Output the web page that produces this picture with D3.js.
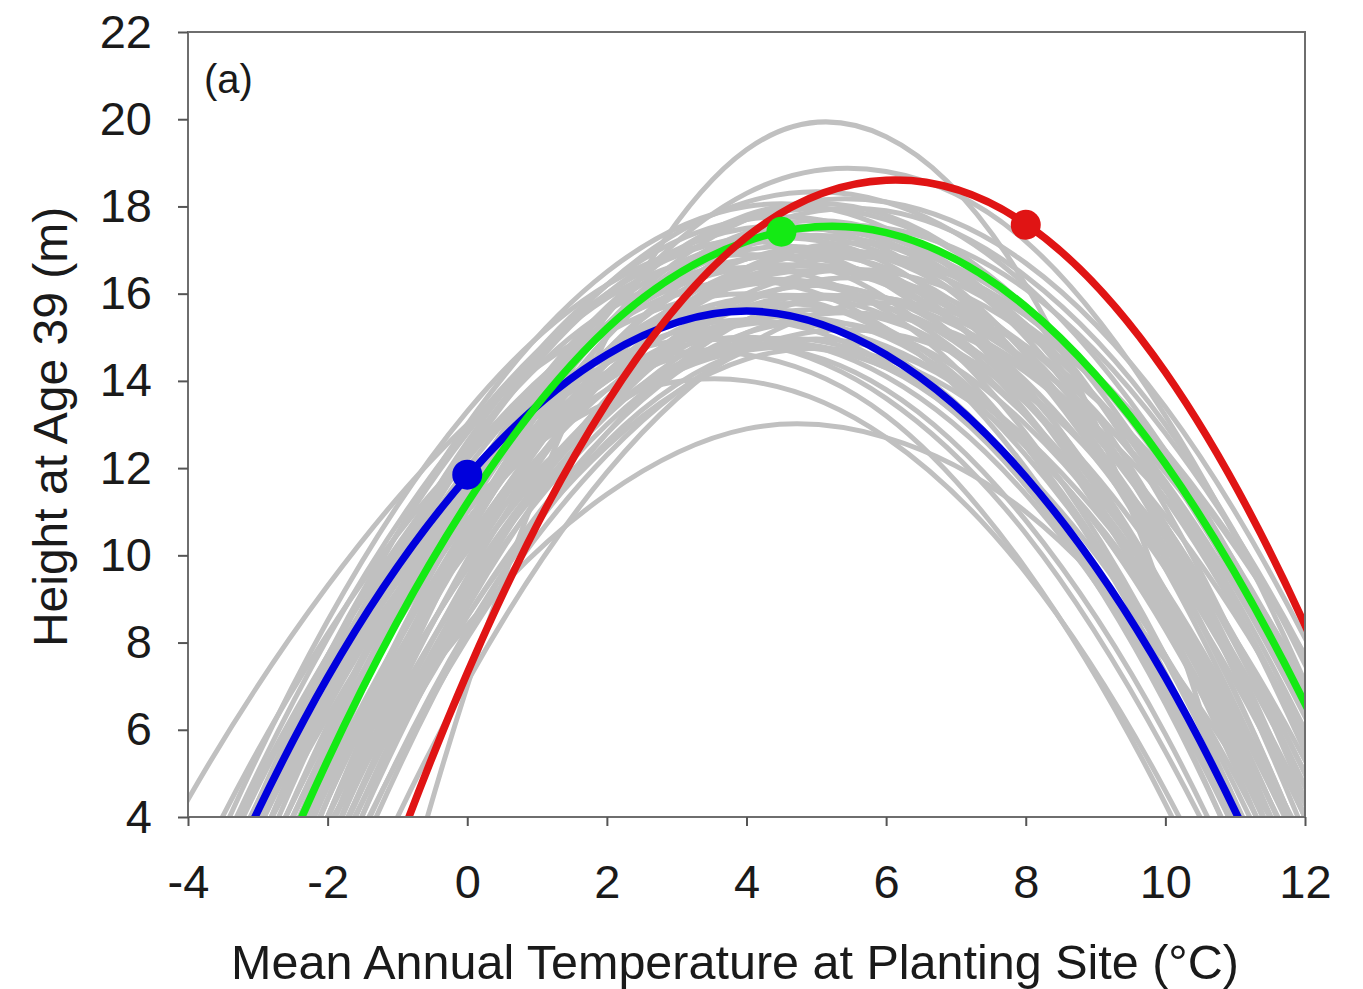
<!DOCTYPE html>
<html>
<head>
<meta charset="utf-8">
<script src="https://cdn.jsdelivr.net/npm/d3@7"></script>
<style>
  body { margin: 0; background: #fff; }
  svg text { font-family: "Liberation Sans", Arial, sans-serif; fill: #1a1a1a; }
</style>
</head>
<body>
<svg id="chart" width="1363" height="989"></svg>
<script>
const temps = [-6, -4, -2, 0, 2, 4, 6, 8, 10, 12, 14];

// heights (m) of the grey response curves at those temperatures
const grayCurves = [
  [-7.5, 0.6, 6.9, 11.4, 14.1, 15.0, 14.1, 11.4, 6.9, 0.6, -7.5],
  [-8.5, 0.1, 6.8, 11.6, 14.4, 15.4, 14.4, 11.6, 6.8, 0.1, -8.5],
  [-7.2, 1.2, 7.7, 12.3, 15.1, 16.0, 15.1, 12.3, 7.7, 1.2, -7.2],
  [-9.1, 0.2, 7.3, 12.5, 15.6, 16.6, 15.6, 12.5, 7.3, 0.2, -9.1],
  [-6.9, 1.8, 8.5, 13.3, 16.2, 17.2, 16.2, 13.3, 8.5, 1.8, -6.9],
  [-11.0, -2.1, 4.9, 10.1, 13.3, 14.7, 14.3, 11.9, 7.7, 1.7, -6.3],
  [-8.1, 0.0, 6.3, 11.0, 14.0, 15.3, 14.8, 12.7, 8.9, 3.4, -3.8],
  [-14.1, -3.8, 4.4, 10.3, 14.1, 15.7, 15.2, 12.5, 7.6, 0.6, -8.7],
  [-11.4, -1.8, 5.7, 11.2, 14.7, 16.2, 15.7, 13.2, 8.7, 2.2, -6.4],
  [-7.6, 0.8, 7.4, 12.2, 15.3, 16.6, 16.2, 14.0, 10.0, 4.3, -3.2],
  [-14.1, -3.4, 5.1, 11.4, 15.3, 17.0, 16.5, 13.6, 8.5, 1.2, -8.4],
  [-11.3, -1.3, 6.5, 12.3, 16.0, 17.5, 17.0, 14.4, 9.7, 2.9, -6.1],
  [-9.6, 0.0, 7.5, 13.0, 16.5, 18.0, 17.5, 15.0, 10.5, 4.0, -4.6],
  [-17.5, -6.8, 1.8, 8.3, 12.6, 14.7, 14.7, 12.6, 8.3, 1.8, -6.8],
  [-13.0, -3.6, 4.0, 9.7, 13.5, 15.4, 15.4, 13.5, 9.7, 4.0, -3.6],
  [-17.3, -6.3, 2.5, 9.1, 13.5, 15.7, 15.7, 13.5, 9.1, 2.5, -6.3],
  [-11.9, -2.5, 5.0, 10.6, 14.4, 16.3, 16.3, 14.4, 10.6, 5.0, -2.5],
  [-16.9, -5.7, 3.2, 9.9, 14.4, 16.6, 16.6, 14.4, 9.9, 3.2, -5.7],
  [-10.5, -1.3, 6.0, 11.6, 15.2, 17.1, 17.1, 15.2, 11.6, 6.0, -1.3],
  [-16.1, -5.0, 4.0, 10.7, 15.2, 17.4, 17.4, 15.2, 10.7, 4.0, -5.0],
  [-12.9, -2.7, 5.5, 11.6, 15.7, 17.7, 17.7, 15.7, 11.6, 5.5, -2.7],
  [-10.1, -0.7, 6.8, 12.4, 16.2, 18.1, 18.1, 16.2, 12.4, 6.8, -0.7],
  [-15.9, -6.0, 2.0, 8.1, 12.3, 14.7, 15.1, 13.7, 10.4, 5.3, -1.8],
  [-12.8, -3.7, 3.7, 9.3, 13.2, 15.4, 15.9, 14.5, 11.5, 6.7, 0.2],
  [-17.1, -6.4, 2.2, 8.8, 13.3, 15.8, 16.3, 14.8, 11.3, 5.7, -1.9],
  [-11.8, -2.7, 4.7, 10.3, 14.2, 16.3, 16.8, 15.5, 12.4, 7.7, 1.2],
  [-16.5, -5.8, 2.9, 9.5, 14.1, 16.6, 17.1, 15.6, 12.0, 6.4, -1.2],
  [-13.5, -3.7, 4.4, 10.5, 14.7, 17.1, 17.5, 16.1, 12.8, 7.7, 0.6],
  [-14.9, -4.5, 4.0, 10.5, 15.0, 17.4, 17.9, 16.4, 13.0, 7.5, 0.0],
  [-18.9, -8.3, 0.4, 7.1, 11.9, 14.8, 15.8, 14.8, 11.9, 7.1, 0.4],
  [-18.3, -7.4, 1.4, 8.2, 12.8, 15.4, 15.9, 14.4, 10.7, 5.0, -2.8],
  [-13.3, -3.3, 4.7, 10.7, 14.7, 16.8, 16.8, 14.7, 10.7, 4.7, -3.3],
  [-7.5, 0.9, 7.3, 11.7, 14.2, 14.6, 13.2, 9.7, 4.3, -3.0, -12.4],
  [-5.3, 2.4, 8.2, 12.3, 14.5, 14.9, 13.6, 10.5, 5.5, -1.2, -9.8],
  [-15.6, -5.0, 3.3, 9.4, 13.3, 14.9, 14.4, 11.6, 6.6, -0.6, -10.0],
  [-15.0, -5.2, 2.7, 8.6, 12.5, 14.5, 14.5, 12.5, 8.6, 2.7, -5.2],
  [-10.3, -0.7, 6.7, 12.0, 15.2, 16.3, 15.2, 12.0, 6.7, -0.7, -10.3],
  [-15.5, -5.3, 2.9, 9.2, 13.6, 16.0, 16.5, 15.1, 11.7, 6.3, -1.0],
  [-6.9, 1.5, 8.1, 12.9, 16.0, 17.3, 16.9, 14.7, 10.7, 5.0, -2.5],
  [-16.8, -5.5, 3.6, 10.4, 15.0, 17.2, 17.2, 15.0, 10.4, 3.6, -5.5],
  [-10.4, -1.5, 5.6, 10.8, 14.0, 15.4, 15.0, 12.6, 8.4, 2.3, -5.7],
  [-8.8, -0.3, 6.5, 11.4, 14.6, 15.9, 15.5, 13.2, 9.2, 3.3, -4.3],
  [-11.3, -1.6, 6.1, 11.7, 15.3, 16.8, 16.3, 13.8, 9.2, 2.5, -6.2],
  [-10.8, -0.9, 6.9, 12.6, 16.2, 17.7, 17.2, 14.6, 10.0, 3.2, -5.6],
  [-15.2, -5.1, 3.0, 9.0, 13.0, 15.1, 15.1, 13.0, 9.0, 3.0, -5.1],
  [-11.9, -2.7, 4.7, 10.2, 13.8, 15.7, 15.7, 13.8, 10.2, 4.7, -2.7],
  [-14.7, -4.3, 4.0, 10.2, 14.4, 16.4, 16.4, 14.4, 10.2, 4.0, -4.3],
  [-11.5, -1.9, 5.7, 11.5, 15.3, 17.3, 17.3, 15.3, 11.5, 5.7, -1.9],
  [-15.7, -4.6, 4.4, 11.1, 15.6, 17.8, 17.8, 15.6, 11.1, 4.4, -4.6],
  [-14.8, -5.2, 2.7, 8.6, 12.8, 15.1, 15.5, 14.2, 10.9, 5.9, -1.0],
  [-14.4, -4.4, 3.6, 9.8, 14.1, 16.5, 16.9, 15.5, 12.2, 7.0, -0.1],
  [-8.9, 0.0, 6.9, 11.8, 14.7, 15.7, 14.7, 11.8, 6.9, 0.0, -8.9],
  [-8.7, 0.5, 7.7, 12.8, 15.9, 16.9, 15.9, 12.8, 7.7, 0.5, -8.7],
  [-13.5, -3.7, 4.0, 9.7, 13.3, 14.8, 14.3, 11.7, 7.1, 0.4, -8.4],
  [-18.7, -7.2, 2.1, 9.0, 13.6, 15.9, 15.9, 13.6, 9.0, 2.1, -7.2],
  [-13.5, -2.9, 5.5, 11.6, 15.6, 17.2, 16.7, 13.9, 8.9, 1.6, -7.9],
  [-13.5, -3.4, 4.7, 11.0, 15.3, 17.7, 18.1, 16.7, 13.4, 8.1, 0.9],
  [-10.0, -1.1, 5.9, 10.8, 13.8, 14.8, 13.8, 10.8, 5.9, -1.1, -10.0],
  [-40.3, -20.7, -4.9, 7.0, 15.0, 19.3, 19.6, 16.2, 8.9, -2.2, -17.2],
  [-7.2, 0.7, 6.8, 11.1, 13.5, 14.0, 12.7, 9.6, 4.6, -2.3, -10.9],
  [-10.3, -2.5, 3.8, 8.4, 11.4, 12.9, 12.7, 11.0, 7.6, 2.6, -3.9],
  [-18.1, -6.4, 3.2, 10.4, 15.5, 18.3, 18.8, 17.2, 13.2, 7.1, -1.3],
  [-1.9, 4.4, 9.3, 13.0, 15.3, 16.3, 15.9, 14.3, 11.3, 7.0, 1.4],
  [-6.0, 1.6, 7.7, 12.3, 15.3, 16.8, 16.8, 15.3, 12.3, 7.7, 1.6]
];

// the three highlighted curves
const blueCurve  = [-7.8, 0.6, 7.2, 11.8, 14.6, 15.6, 14.6, 11.8, 7.2, 0.6, -7.8];
const greenCurve = [-12.1, -2.5, 5.3, 11.2, 15.2, 17.2, 17.4, 15.7, 12.1, 6.6, -0.8];
const redCurve   = [-25.6, -12.3, -1.3, 7.3, 13.5, 17.3, 18.6, 17.6, 14.2, 8.4, 0.2];

// dots on the highlighted curves (temperature, height)
const dotSeries  = ["blue", "green", "red"];
const dotTemps   = [0, 4.5, 8];
const dotHeights = [11.85, 17.42, 17.58];

const xTicks = [-4, -2, 0, 2, 4, 6, 8, 10, 12];
const yTicks = [4, 6, 8, 10, 12, 14, 16, 18, 20, 22];

const colors = { blue: "#0000dc", green: "#14ea14", red: "#e01414" };

const svg = d3.select("#chart");
const plotL = 188, plotR = 1305, plotT = 32, plotB = 817;

const x = d3.scaleLinear().domain([-4, 12]).range([plotL, plotR]);
const y = d3.scaleLinear().domain([4, 22]).range([plotB, plotT]);

svg.append("defs").append("clipPath")
    .attr("id", "plot")
  .append("rect")
    .attr("x", plotL).attr("y", plotT)
    .attr("width", plotR - plotL).attr("height", plotB - plotT);

// curve through the read points (uniform Catmull-Rom)
const line = d3.line()
    .x((d, i) => x(temps[i]))
    .y(d => y(d))
    .curve(d3.curveCatmullRom.alpha(0));

const curves = svg.append("g").attr("clip-path", "url(#plot)");

curves.selectAll("path.gray")
    .data(grayCurves)
    .enter()
    .append("path")
    .classed("gray", true)
    .attr("d", line)
    .attr("fill", "none")
    .attr("stroke", "#c0c0c0")
    .attr("stroke-width", 5);

const coloured = [["blue", blueCurve], ["green", greenCurve], ["red", redCurve]];
curves.selectAll("path.hl")
    .data(coloured)
    .enter()
    .append("path")
    .classed("hl", true)
    .attr("d", d => line(d[1]))
    .attr("fill", "none")
    .attr("stroke", d => colors[d[0]])
    .attr("stroke-width", 7.5);

svg.append("g").selectAll("circle")
    .data(dotSeries)
    .enter()
    .append("circle")
    .attr("cx", (d, i) => x(dotTemps[i]))
    .attr("cy", (d, i) => y(dotHeights[i]))
    .attr("r", 15)
    .attr("fill", d => colors[d]);

// frame
svg.append("rect")
    .attr("x", plotL).attr("y", plotT)
    .attr("width", plotR - plotL).attr("height", plotB - plotT)
    .attr("fill", "none")
    .attr("stroke", "#6e6e6e")
    .attr("stroke-width", 2);

// axes (plain hyphen for negatives, as in the original)
const yAxis = svg.append("g")
    .attr("transform", `translate(${plotL},0)`)
    .call(d3.axisLeft(y).tickValues(yTicks).tickFormat(d => String(d))
        .tickSize(10).tickSizeOuter(0).tickPadding(26));

const xAxis = svg.append("g")
    .attr("transform", `translate(0,${plotB})`)
    .call(d3.axisBottom(x).tickValues(xTicks).tickFormat(d => String(d))
        .tickSize(9).tickSizeOuter(0).tickPadding(39));

[yAxis, xAxis].forEach(g => {
    g.select(".domain").remove();
    g.selectAll("line").attr("stroke", "#555").attr("stroke-width", 2);
    g.selectAll("text")
        .attr("font-family", "Liberation Sans, Arial, sans-serif")
        .attr("font-size", 47)
        .attr("fill", "#1a1a1a");
});

// titles
svg.append("text")
    .attr("x", 735)
    .attr("y", 979)
    .attr("text-anchor", "middle")
    .attr("font-size", 48.5)
    .text("Mean Annual Temperature at Planting Site (°C)");

svg.append("text")
    .attr("transform", "translate(67,427) rotate(-90)")
    .attr("text-anchor", "middle")
    .attr("font-size", 48)
    .text("Height at Age 39 (m)");

svg.append("text")
    .attr("x", 204)
    .attr("y", 93)
    .attr("font-size", 40)
    .text("(a)");
</script>
</body>
</html>
